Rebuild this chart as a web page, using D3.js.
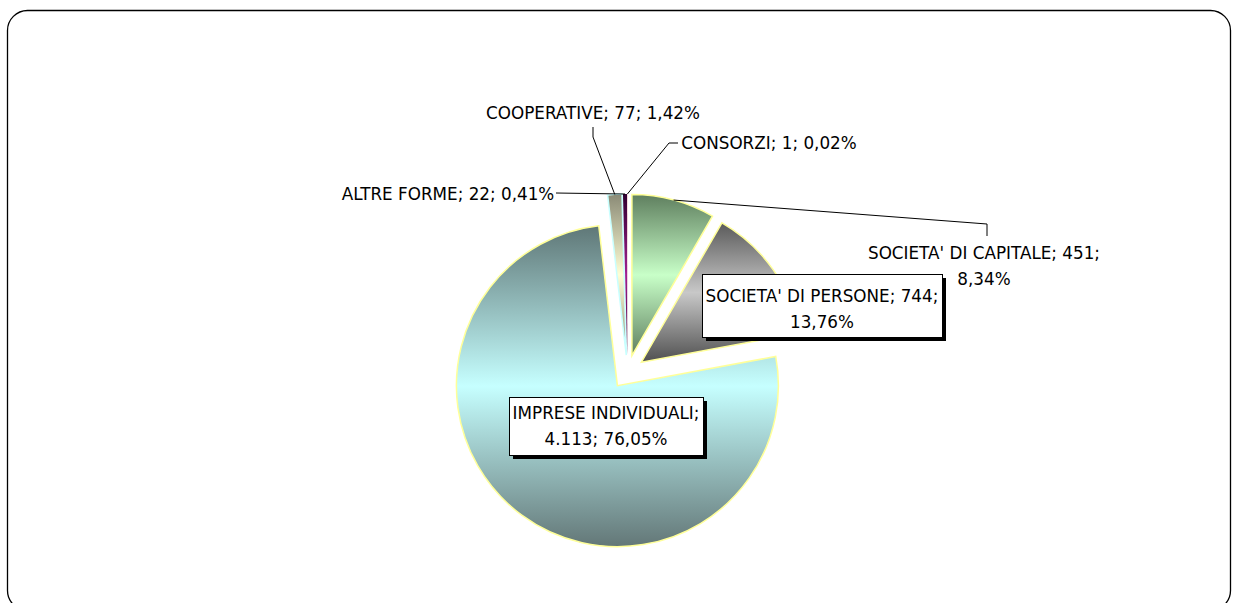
<!DOCTYPE html>
<html><head><meta charset="utf-8">
<script src="https://cdn.jsdelivr.net/npm/d3@7"></script>
<style>
html,body{margin:0;padding:0;background:#fff;}
svg{display:block;}
text{font-family:"DejaVu Sans",sans-serif;font-size:16.8px;fill:#000;}
</style></head>
<body>
<svg id="chart" width="1235" height="603"></svg>
<script>
// ---- data ----
const categories = ["SOCIETA' DI CAPITALE", "SOCIETA' DI PERSONE", "IMPRESE INDIVIDUALI", "COOPERATIVE", "ALTRE FORME", "CONSORZI"];
const values = [451, 744, 4113, 77, 22, 1];
const percentLabels = ["8,34%", "13,76%", "76,05%", "1,42%", "0,41%", "0,02%"];
const valueLabels = ["451", "744", "4.113", "77", "22", "1"];

// ---- styling / layout (not data) ----
const gradients = [
  ["#5f7f5f", "#c8ffc8", "#5f7f5f"],
  ["#5a5a5a", "#c8c8c8", "#505050"],
  ["#5f7777", "#c6ffff", "#637777"],
  ["#8a8a76", "#ffffd6", "#8a8a76"],
  ["#300030", "#a02090", "#300030"],
  ["#ff7070", "#ffa0a0", "#ff7070"]
];
const cx = 627.5, cy = 372, R = 161, explode = 17;
const labelLayout = [
  {lines: ["SOCIETA' DI CAPITALE; 451;", "8,34%"], x: 984, y: 259, box: false, leader: [[987, 224], [987, 236]]},
  {lines: ["SOCIETA' DI PERSONE; 744;", "13,76%"], x: 822, y: 302, box: [702, 274, 240, 63]},
  {lines: ["IMPRESE INDIVIDUALI;", "4.113; 76,05%"], x: 606, y: 419, box: [509, 397, 194, 58]},
  {lines: ["COOPERATIVE; 77; 1,42%"], x: 593, y: 119, box: false, leader: [[593, 137], [593, 127]]},
  {lines: ["ALTRE FORME; 22; 0,41%"], x: 448, y: 200, box: false, leader: [[556, 193]]},
  {lines: ["CONSORZI; 1; 0,02%"], x: 769, y: 149, box: false, leader: [[669, 143], [678, 143]]}
];

const svg = d3.select("#chart");
svg.append("rect").attr("x", 7.5).attr("y", 10.5).attr("width", 1223).attr("height", 600)
  .attr("rx", 20).attr("ry", 20).attr("fill", "#fff").attr("stroke", "#000").attr("stroke-width", 1.3);

const defs = svg.append("defs");
gradients.forEach((g, i) => {
  const lg = defs.append("linearGradient").attr("id", "g" + i)
    .attr("x1", 0).attr("y1", 0).attr("x2", 0).attr("y2", 1);
  lg.append("stop").attr("offset", "0%").attr("stop-color", g[0]);
  lg.append("stop").attr("offset", "50%").attr("stop-color", g[1]);
  lg.append("stop").attr("offset", "100%").attr("stop-color", g[2]);
});

const pie = d3.pie().sort(null).value(d => d)(values);
const arc = d3.arc().innerRadius(0).outerRadius(R);

function offset(d) {
  const m = (d.startAngle + d.endAngle) / 2;
  return [explode * Math.sin(m), -explode * Math.cos(m)];
}

const g = svg.append("g").attr("transform", `translate(${cx},${cy})`);
g.selectAll("path.slice").data(pie).join("path")
  .attr("class", "slice")
  .attr("transform", d => { const o = offset(d); return `translate(${o[0]},${o[1]})`; })
  .attr("d", arc)
  .attr("fill", (d, i) => `url(#g${i})`)
  .attr("stroke", (d, i) => i < 3 ? "#ffff99" : (i === 3 ? "#c8ffff" : "none"))
  .attr("stroke-width", 1.5);

pie.forEach((d, i) => {
  const L = labelLayout[i];
  if (!L.leader) return;
  const o = offset(d);
  const m = (d.startAngle + d.endAngle) / 2;
  const p0 = [cx + o[0] + R * Math.sin(m), cy + o[1] - R * Math.cos(m)];
  const pts = [p0].concat(L.leader);
  svg.append("path").attr("d", d3.line()(pts)).attr("fill", "none")
    .attr("stroke", "#000").attr("stroke-width", 1);
});

labelLayout.forEach((L, i) => {
  if (L.box) {
    const [bx, by, bw, bh] = L.box;
    svg.append("rect").attr("x", bx + 4).attr("y", by + 4).attr("width", bw).attr("height", bh).attr("fill", "#000");
    svg.append("rect").attr("x", bx + 0.5).attr("y", by + 0.5).attr("width", bw).attr("height", bh)
      .attr("fill", "#fff").attr("stroke", "#000").attr("stroke-width", 1);
  }
  const t = svg.append("text").attr("text-anchor", "middle");
  L.lines.forEach((s, j) => {
    t.append("tspan").attr("x", L.x).attr("y", L.y + j * 26).text(s);
  });
});
</script>
</body></html>
